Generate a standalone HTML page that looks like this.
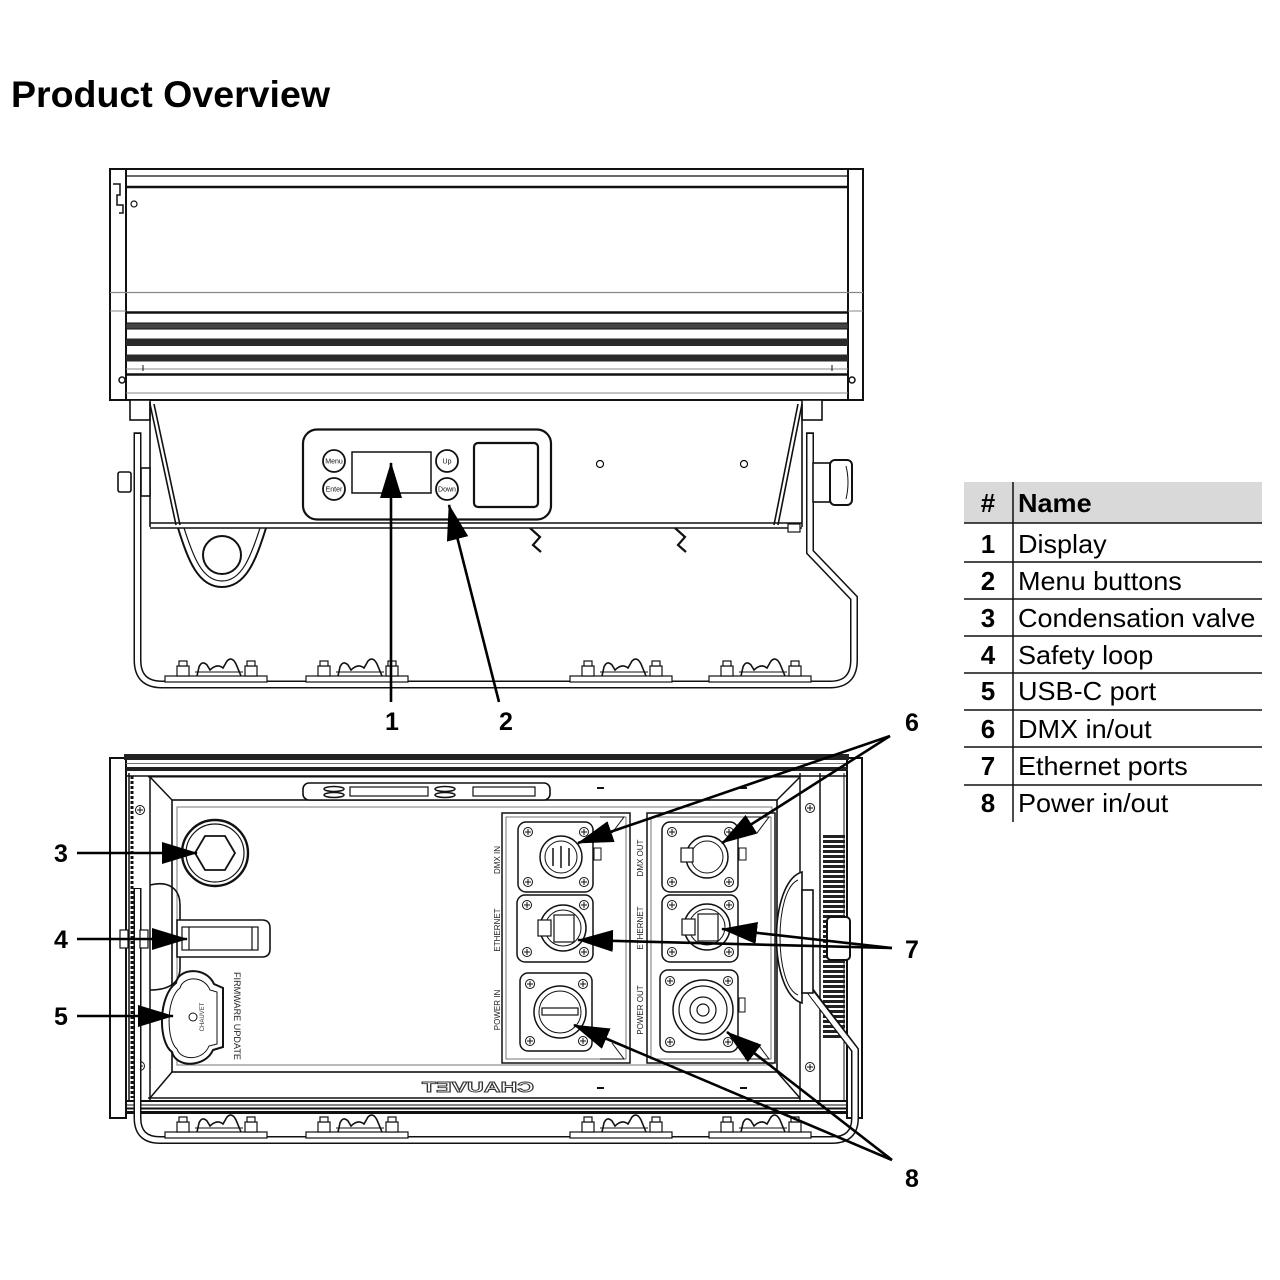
<!DOCTYPE html>
<html><head><meta charset="utf-8">
<style>
html,body{margin:0;padding:0;background:#fff;}
svg{display:block;}
text{font-family:"Liberation Sans",Arial,sans-serif;}
</style></head><body>
<svg width="1280" height="1280" viewBox="0 0 1280 1280" xmlns="http://www.w3.org/2000/svg">
<defs>
<marker id="ah" markerUnits="userSpaceOnUse" markerWidth="37" markerHeight="22" refX="35" refY="11" orient="auto">
<path d="M0,0 L36,11 L0,22 Z" fill="#000"/>
</marker>
<pattern id="fins" width="4" height="5" patternUnits="userSpaceOnUse"><rect width="4" height="3" fill="#222"/></pattern>
<g id="foot" fill="#fff" stroke="#111" stroke-width="1.2">
 <rect x="0" y="676" width="102" height="6"/>
 <rect x="12" y="666" width="12" height="10"/>
 <rect x="14" y="661" width="8" height="5"/>
 <rect x="80" y="666" width="12" height="10"/>
 <rect x="82" y="661" width="8" height="5"/>
 <path d="M32,676 L34,667 Q37,660 42,665 L45,670 Q52,663 58,668 L62,661 Q67,656 71,664 L76,676" fill="none" stroke-width="1.6"/>
 <line x1="30" y1="672" x2="78" y2="672" stroke-width="1"/>
</g>
<g id="scr"><circle r="4.5" fill="#fff" stroke="#111" stroke-width="1"/><path d="M-3,0H3M0,-3V3" stroke="#111" stroke-width="1"/></g>
</defs>
<rect width="1280" height="1280" fill="#fff"/>

<text x="11" y="107" font-size="37" font-weight="bold" fill="#000" textLength="319" lengthAdjust="spacingAndGlyphs">Product Overview</text>

<!-- ===== TOP VIEW ===== -->
<path d="M137.5,433 V660 Q137.5,684.5 162,684.5 H830 Q854,684.5 854,660 V598 L810,552 V433" fill="none" stroke="#111" stroke-width="8"/>
<path d="M137.5,434 V660 Q137.5,684.5 162,684.5 H830 Q854,684.5 854,660 V598 L810,552 V434" fill="none" stroke="#fff" stroke-width="5"/>
<g fill="none" stroke="#111" stroke-width="1.5">
 <line x1="133.5" y1="433" x2="141.5" y2="433"/>
 <line x1="806" y1="433" x2="814" y2="433"/>
</g>

<g fill="none" stroke="#111" stroke-width="2">
 <rect x="110" y="169" width="753" height="231" fill="#fff"/>
 <line x1="126" y1="169" x2="126" y2="400"/>
 <line x1="848" y1="169" x2="848" y2="400"/>
 <line x1="126" y1="176" x2="848" y2="176" stroke-width="1.2"/>
 <line x1="126" y1="187" x2="848" y2="187" stroke-width="2.6"/>
 <line x1="110" y1="292.5" x2="863" y2="292.5" stroke-width="1.2" stroke="#888"/>
 <line x1="110" y1="311" x2="126" y2="311" stroke-width="1" stroke="#888"/>
 <line x1="848" y1="311" x2="863" y2="311" stroke-width="1" stroke="#888"/>
 <line x1="126" y1="312.5" x2="848" y2="312.5" stroke-width="2.5"/>
 <rect x="126" y="323" width="722" height="6" fill="#444" stroke="#111" stroke-width="1"/>
 <rect x="126" y="338.5" width="722" height="7.5" fill="#2a2a2a" stroke="none"/>
 <rect x="126" y="354.5" width="722" height="7" fill="#2a2a2a" stroke="none"/>
 <line x1="126" y1="369" x2="848" y2="369" stroke-width="1" stroke="#888"/>
 <line x1="143" y1="365" x2="143" y2="371" stroke-width="1"/>
 <line x1="832" y1="365" x2="832" y2="371" stroke-width="1"/>
 <line x1="126" y1="374.5" x2="848" y2="374.5" stroke-width="2.5"/>
 <line x1="126" y1="393" x2="848" y2="393" stroke-width="1" stroke="#888"/>
 <path d="M113,184 H120 V195 H117 V205 H123 V213 H119" stroke-width="1.5"/>
 <circle cx="134" cy="204" r="3" stroke-width="1.2"/>
 <circle cx="122" cy="380" r="3" stroke-width="1.5"/>
 <circle cx="852" cy="380" r="3" stroke-width="1.5"/>
</g>

<g fill="none" stroke="#111" stroke-width="1.6">
 <rect x="130" y="400" width="20" height="20" fill="#fff"/>
 <rect x="802" y="400" width="20" height="20" fill="#fff"/>
 <line x1="150" y1="402" x2="150" y2="527"/>
 <line x1="150" y1="404" x2="176" y2="525"/>
 <line x1="154" y1="404" x2="180" y2="525"/>
 <line x1="802" y1="404" x2="778" y2="525"/>
 <line x1="798" y1="404" x2="774" y2="525"/>
 <line x1="802" y1="404" x2="802" y2="527"/>
 <line x1="150" y1="523" x2="802" y2="523"/>
 <line x1="150" y1="528" x2="802" y2="528"/>
 <rect x="118" y="472" width="13" height="20" rx="2" fill="#fff"/>
 <rect x="141" y="468" width="9" height="28" fill="#fff"/>
 <rect x="813" y="463" width="17" height="39" fill="#fff"/>
 <rect x="830" y="460" width="22" height="45" rx="5" fill="#fff" stroke-width="2"/>
 <path d="M846,466 Q850,482 846,499" stroke-width="1"/>
 <rect x="788" y="524" width="12" height="8" fill="#fff" stroke-width="1.2"/>
 <path d="M178,528 C188,560 198,587 222,587 C246,587 256,560 266,528" stroke-width="2"/>
 <path d="M184,528 C193,556 202,581 222,581 C242,581 251,556 260,528" stroke-width="1.2"/>
 <circle cx="222" cy="555" r="19" stroke-width="2"/>
 <path d="M530,528 L540,537 L533,545 L541,552" stroke-width="2.2"/>
 <path d="M675,528 L685,537 L678,545 L686,552" stroke-width="2.2"/>
 <rect x="303" y="429.5" width="248" height="90" rx="14" fill="#fff" stroke-width="2.2"/>
 <rect x="352" y="452" width="79" height="41" stroke-width="1.5"/>
 <rect x="474" y="443" width="64" height="64" rx="4" stroke-width="2.2"/>
 <circle cx="334" cy="461" r="11" stroke-width="1.8"/>
 <circle cx="334" cy="489" r="11" stroke-width="1.8"/>
 <circle cx="447" cy="461" r="11" stroke-width="1.8"/>
 <circle cx="447" cy="489" r="11" stroke-width="1.8"/>
 <circle cx="600" cy="464" r="3.5" stroke-width="1.2"/>
 <circle cx="744" cy="464" r="3.5" stroke-width="1.2"/>
</g>
<g font-size="7" fill="#111" text-anchor="middle">
 <text x="334" y="463.5">Menu</text>
 <text x="334" y="491.5">Enter</text>
 <text x="447" y="463.5">Up</text>
 <text x="447" y="491.5">Down</text>
</g>
<use href="#foot" x="165"/>
<use href="#foot" x="306"/>
<use href="#foot" x="570"/>
<use href="#foot" x="709"/>

<!-- ===== BOTTOM VIEW ===== -->
<g fill="none" stroke="#111" stroke-width="2">
 <rect x="110" y="758" width="16" height="360" fill="#fff"/>
 <rect x="847" y="758" width="15" height="360" fill="#fff"/>
 <rect x="124" y="754" width="725" height="6" fill="#222" stroke="none"/>
 <line x1="126" y1="763.5" x2="848" y2="763.5" stroke-width="1" stroke="#777"/>
 <rect x="126" y="767" width="722" height="4" fill="#222" stroke="none"/>
 <line x1="126" y1="776" x2="848" y2="776" stroke-width="1.5"/>
 <line x1="148" y1="777" x2="800" y2="777" stroke-width="1"/>
 <line x1="148" y1="1098" x2="800" y2="1098" stroke-width="1.5"/>
 <line x1="126" y1="1101" x2="848" y2="1101" stroke-width="2"/>
 <line x1="126" y1="1105" x2="848" y2="1105" stroke-width="1"/>
 <line x1="126" y1="1108.5" x2="848" y2="1108.5" stroke-width="2"/>
 <line x1="126" y1="1112.5" x2="848" y2="1112.5" stroke-width="3"/>
 <line x1="129" y1="773" x2="129" y2="1100" stroke-width="1.5"/>
 <line x1="132" y1="776" x2="132" y2="1098" stroke-width="3" stroke-dasharray="3,2"/>
 <line x1="150" y1="776" x2="150" y2="1100" stroke-width="1.5"/>
 <line x1="800" y1="773" x2="800" y2="1100" stroke-width="1.5"/>
 <line x1="820" y1="773" x2="820" y2="1100" stroke-width="1.5"/>
 <line x1="844" y1="773" x2="844" y2="1100" stroke-width="1"/>
 <rect x="172" y="800" width="605" height="272" stroke-width="1.6"/>
 <rect x="177" y="807" width="595" height="258" stroke-width="1" stroke="#777"/>
 <line x1="150" y1="777" x2="172" y2="800" stroke-width="1.5"/>
 <line x1="150" y1="1098" x2="172" y2="1072" stroke-width="1.5"/>
 <line x1="800" y1="777" x2="777" y2="800" stroke-width="1.5"/>
 <line x1="800" y1="1098" x2="777" y2="1072" stroke-width="1.5"/>
 <rect x="823" y="833" width="22" height="207" fill="url(#fins)" stroke="none"/>
</g>
<use href="#scr" x="140" y="810"/>
<use href="#scr" x="140" y="1066"/>
<use href="#scr" x="810" y="808"/>
<use href="#scr" x="810" y="1067"/>

<path d="M137.5,888 V1118 Q137.5,1140 160,1140 H832 Q855,1140 855,1118 V1050 L808,988" fill="none" stroke="#111" stroke-width="8"/>
<path d="M137.5,889 V1118 Q137.5,1140 160,1140 H832 Q855,1140 855,1118 V1050 L808,989" fill="none" stroke="#fff" stroke-width="5"/>
<use href="#foot" x="165" y="456"/>
<use href="#foot" x="306" y="456"/>
<use href="#foot" x="570" y="456"/>
<use href="#foot" x="709" y="456"/>

<g fill="#fff" stroke="#111" stroke-width="1.6">
 <path d="M802,872 C768,882 768,993 802,1003 Z"/>
 <path d="M798,880 C774,890 774,985 798,995" fill="none" stroke-width="1"/>
 <rect x="802" y="890" width="11" height="103"/>
 <rect x="827" y="917" width="23" height="43" rx="4" stroke-width="2"/>
 <rect x="303" y="783" width="247" height="17" rx="6"/>
 <rect x="350" y="787" width="78" height="9" stroke-width="1.2"/>
 <rect x="473" y="787" width="62" height="9" stroke-width="1.2"/>
 <ellipse cx="334" cy="789" rx="10" ry="2.5" stroke-width="1.5"/>
 <ellipse cx="334" cy="795" rx="10" ry="2.5" stroke-width="1.5"/>
 <ellipse cx="445" cy="789" rx="10" ry="2.5" stroke-width="1.5"/>
 <ellipse cx="445" cy="795" rx="10" ry="2.5" stroke-width="1.5"/>
 <circle cx="215" cy="853" r="33" stroke-width="2.4"/>
 <circle cx="215" cy="853" r="29" stroke-width="1.2"/>
 <polygon points="235,853 225,870 205,870 195,853 205,836 225,836" stroke-width="1.8"/>
 <path d="M150,885 C170,880 180,890 180,905 L180,968 C180,982 170,990 150,990" fill="none"/>
 <path d="M177,920 H262 Q270,920 270,928 V949 Q270,957 262,957 H177 Z"/>
 <rect x="182" y="927" width="76" height="23" stroke-width="1.2"/>
 <line x1="189" y1="927" x2="189" y2="950" stroke-width="1.2"/>
 <line x1="252" y1="927" x2="252" y2="950" stroke-width="1.2"/>
 <rect x="120" y="930" width="8" height="18" stroke-width="1.2"/>
 <rect x="140" y="930" width="8" height="18" stroke-width="1.2"/>
 <path d="M176,983 C178,968 206,966 214,984 L223,988 L223,1047 L213,1050 C205,1068 176,1068 172,1052 C158,1042 158,996 176,983 Z" stroke-width="2"/>
 <path d="M180,988 C183,976 204,975 210,990 L217,992 L217,1044 L209,1046 C203,1061 181,1061 177,1049 C166,1040 166,998 180,988 Z" fill="none" stroke-width="1"/>
 <circle cx="193" cy="1017" r="4" stroke-width="1"/>
</g>
<text transform="translate(234,1016) rotate(90)" font-size="9" text-anchor="middle" fill="#222" textLength="88" lengthAdjust="spacingAndGlyphs">FIRMWARE UPDATE</text>
<text transform="translate(204,1017) rotate(-90)" font-size="6" text-anchor="middle" fill="#333">CHAUVET</text>

<g fill="#fff" stroke="#111" stroke-width="1.5">
 <rect x="502" y="813" width="128" height="250"/>
 <rect x="506" y="817" width="120" height="242" fill="none" stroke-width="0.8" stroke="#555"/>
 <rect x="647" y="813" width="128" height="250"/>
 <rect x="651" y="817" width="120" height="242" fill="none" stroke-width="0.8" stroke="#555"/>
 <path d="M600,817 L624,817 L612,833 M600,1059 L624,1059 L612,1043" fill="none" stroke-width="1"/>
 <path d="M745,817 L769,817 L757,833 M745,1059 L769,1059 L757,1043" fill="none" stroke-width="1"/>
 <rect x="518" y="822" width="75" height="70" rx="8"/>
 <circle cx="561" cy="857" r="21"/>
 <circle cx="561" cy="857" r="16" stroke-width="1"/>
 <path d="M553,848 V866 M561,846 V868 M569,848 V866" stroke-width="1.5"/>
 <rect x="594" y="848" width="7" height="12" stroke-width="1"/>
 <rect x="517" y="895" width="76" height="67" rx="8"/>
 <circle cx="563" cy="928" r="23"/>
 <circle cx="563" cy="928" r="18" stroke-width="1"/>
 <rect x="554" y="915" width="20" height="27" stroke-width="1.2"/>
 <rect x="538" y="920" width="13" height="16" stroke-width="1.2"/>
 <rect x="520" y="973" width="72" height="78" rx="8"/>
 <circle cx="560" cy="1012" r="26"/>
 <circle cx="560" cy="1012" r="21" stroke-width="1"/>
 <rect x="542" y="1008" width="36" height="7" stroke-width="1.2"/>
 <rect x="662" y="822" width="76" height="70" rx="8"/>
 <circle cx="707" cy="857" r="21"/>
 <circle cx="707" cy="857" r="16" stroke-width="1"/>
 <rect x="681" y="848" width="12" height="14" stroke-width="1.2"/>
 <rect x="739" y="848" width="7" height="12" stroke-width="1"/>
 <rect x="662" y="895" width="76" height="67" rx="8"/>
 <circle cx="707" cy="927" r="23"/>
 <circle cx="707" cy="927" r="18" stroke-width="1"/>
 <rect x="698" y="914" width="20" height="27" stroke-width="1.2"/>
 <rect x="682" y="919" width="13" height="16" stroke-width="1.2"/>
 <rect x="660" y="970" width="78" height="82" rx="8"/>
 <circle cx="703" cy="1010" r="30"/>
 <circle cx="703" cy="1010" r="24" stroke-width="1.2"/>
 <circle cx="703" cy="1010" r="13" stroke-width="1.2"/>
 <circle cx="703" cy="1010" r="6" stroke-width="1.2"/>
 <rect x="739" y="998" width="6" height="14" stroke-width="1"/>
</g>
<use href="#scr" x="528" y="832"/><use href="#scr" x="584" y="832"/><use href="#scr" x="528" y="882"/><use href="#scr" x="584" y="882"/>
<use href="#scr" x="527" y="905"/><use href="#scr" x="584" y="905"/><use href="#scr" x="527" y="952"/><use href="#scr" x="584" y="952"/>
<use href="#scr" x="530" y="984"/><use href="#scr" x="583" y="984"/><use href="#scr" x="530" y="1041"/><use href="#scr" x="583" y="1041"/>
<use href="#scr" x="672" y="832"/><use href="#scr" x="729" y="832"/><use href="#scr" x="672" y="882"/><use href="#scr" x="729" y="882"/>
<use href="#scr" x="672" y="905"/><use href="#scr" x="729" y="905"/><use href="#scr" x="672" y="952"/><use href="#scr" x="729" y="952"/>
<use href="#scr" x="670" y="981"/><use href="#scr" x="728" y="981"/><use href="#scr" x="670" y="1042"/><use href="#scr" x="728" y="1042"/>

<g font-size="8" fill="#222" text-anchor="middle">
 <text transform="translate(500,860) rotate(-90)">DMX IN</text>
 <text transform="translate(500,930) rotate(-90)">ETHERNET</text>
 <text transform="translate(500,1010) rotate(-90)">POWER IN</text>
 <text transform="translate(643,858) rotate(-90)">DMX OUT</text>
 <text transform="translate(643,928) rotate(-90)">ETHERNET</text>
 <text transform="translate(643,1010) rotate(-90)">POWER OUT</text>
</g>
<g stroke="#111" stroke-width="2">
 <line x1="597" y1="788" x2="604" y2="788"/>
 <line x1="740" y1="788" x2="747" y2="788"/>
 <line x1="597" y1="1088" x2="604" y2="1088"/>
 <line x1="740" y1="1088" x2="747" y2="1088"/>
</g>
<text transform="matrix(-1,0,0,1,956,0)" x="478" y="1092" font-size="15" font-weight="bold" text-anchor="middle" fill="#fff" stroke="#333" stroke-width="0.9" textLength="112" lengthAdjust="spacingAndGlyphs">CHAUVET</text>

<!-- ===== ARROWS ===== -->
<g stroke="#000" stroke-width="2.6" fill="none" marker-end="url(#ah)">
 <line x1="391" y1="702" x2="391" y2="463"/>
 <line x1="499" y1="702" x2="449" y2="505"/>
 <line x1="77" y1="853" x2="197" y2="853"/>
 <line x1="77" y1="939" x2="187" y2="939"/>
 <line x1="77" y1="1016" x2="173" y2="1016"/>
 <line x1="890" y1="736" x2="578" y2="843"/>
 <line x1="890" y1="736" x2="722" y2="843"/>
 <line x1="892" y1="948" x2="578" y2="940"/>
 <line x1="892" y1="948" x2="722" y2="929"/>
 <line x1="892" y1="1160" x2="574" y2="1025"/>
 <line x1="892" y1="1160" x2="727" y2="1032"/>
</g>
<g font-size="25" font-weight="bold" fill="#000" text-anchor="middle">
 <text x="392" y="730">1</text>
 <text x="506" y="730">2</text>
 <text x="61" y="862">3</text>
 <text x="61" y="948">4</text>
 <text x="61" y="1025">5</text>
 <text x="912" y="731">6</text>
 <text x="912" y="958">7</text>
 <text x="912" y="1187">8</text>
</g>

<!-- ===== TABLE ===== -->
<rect x="964" y="482" width="298" height="41" fill="#d9d9d9"/>
<g stroke="#111" stroke-width="1.5">
 <line x1="1013" y1="482" x2="1013" y2="822"/>
 <line x1="964" y1="523" x2="1262" y2="523"/>
 <line x1="964" y1="562" x2="1262" y2="562"/>
 <line x1="964" y1="599" x2="1262" y2="599"/>
 <line x1="964" y1="636" x2="1262" y2="636"/>
 <line x1="964" y1="673" x2="1262" y2="673"/>
 <line x1="964" y1="710" x2="1262" y2="710"/>
 <line x1="964" y1="747" x2="1262" y2="747"/>
 <line x1="964" y1="785" x2="1262" y2="785"/>
</g>
<g font-size="26" fill="#000">
 <text x="988" y="512" font-weight="bold" text-anchor="middle">#</text>
 <g font-weight="bold" text-anchor="middle">
  <text x="988" y="553">1</text>
  <text x="988" y="590">2</text>
  <text x="988" y="627">3</text>
  <text x="988" y="664">4</text>
  <text x="988" y="700">5</text>
  <text x="988" y="738">6</text>
  <text x="988" y="775">7</text>
  <text x="988" y="812">8</text>
 </g>
 <g transform="translate(1018,0) scale(1.04,1) translate(-1018,0)">
  <text x="1018" y="512" font-weight="bold">Name</text>
  <text x="1018" y="553">Display</text>
  <text x="1018" y="590">Menu buttons</text>
  <text x="1018" y="627">Condensation valve</text>
  <text x="1018" y="664">Safety loop</text>
  <text x="1018" y="700">USB-C port</text>
  <text x="1018" y="738">DMX in/out</text>
  <text x="1018" y="775">Ethernet ports</text>
  <text x="1018" y="812">Power in/out</text>
 </g>
</g>
</svg>
</body></html>
